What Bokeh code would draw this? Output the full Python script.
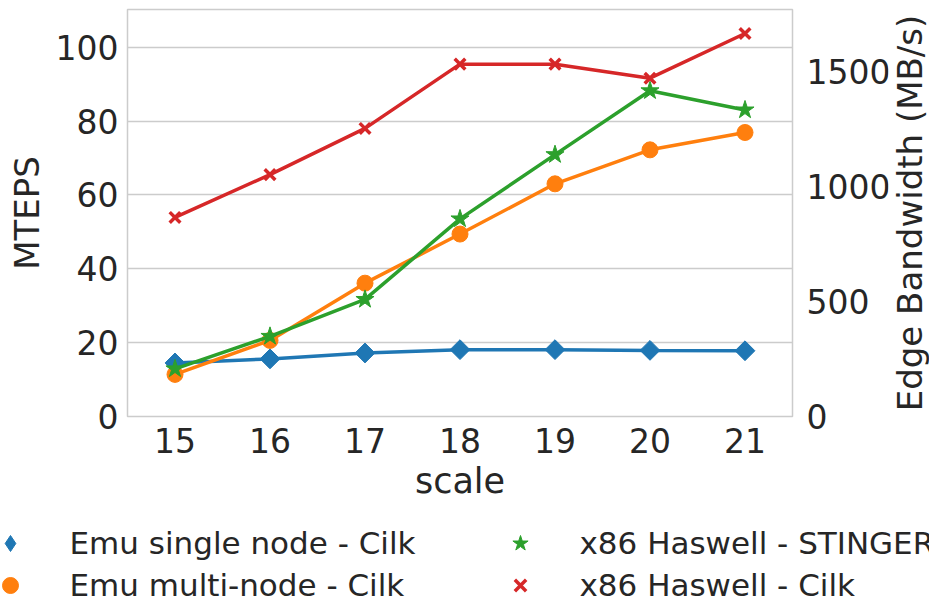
import math
from bokeh.plotting import figure
from bokeh.core.properties import value
from bokeh.models import Range1d, LinearAxis, FixedTicker, Legend, LegendItem
from bokeh.embed import file_html
from bokeh.resources import INLINE

# ---- data ----
scale = [15, 16, 17, 18, 19, 20, 21]
emu_single_cilk = [14.5, 15.6, 17.2, 18.1, 18.1, 17.9, 17.8]
emu_multi_cilk = [11.4, 20.6, 36.1, 49.4, 63.0, 72.2, 76.9]
haswell_stinger = [12.9, 21.7, 31.7, 53.5, 70.9, 88.2, 83.0]
haswell_cilk = [53.9, 65.5, 78.0, 95.4, 95.4, 91.6, 103.7]

series_names = ["Emu single node - Cilk", "Emu multi-node - Cilk",
                "x86 Haswell - STINGER", "x86 Haswell - Cilk"]
mteps_ticks = [0, 20, 40, 60, 80, 100]
bw_ticks = [0, 500, 1000, 1500]
right_label = "Edge Bandwidth (MB/s)"

colors = ["#1f77b4", "#ff7f0e", "#2ca02c", "#d62728"]
TEXT = "#262626"
FONT = "DejaVu Sans"

MAIN_H = 515
p = figure(width=929, height=MAIN_H, output_backend="svg", toolbar_location=None,
           x_range=Range1d(14.5, 21.5), y_range=Range1d(0, 110.2),
           min_border_left=127, min_border_right=137, min_border_top=9,
           min_border_bottom=MAIN_H - 416)
p.extra_y_ranges = {"bw": Range1d(0, 1770)}

p.xaxis.ticker = FixedTicker(ticks=scale)
p.yaxis.ticker = FixedTicker(ticks=mteps_ticks)
p.xaxis.axis_label = "scale"
p.yaxis.axis_label = "MTEPS"

rax = LinearAxis(y_range_name="bw", ticker=FixedTicker(ticks=bw_ticks))
p.add_layout(rax, "right")

for ax in [p.xaxis[0], p.yaxis[0], rax]:
    ax.axis_line_color = None
    ax.major_tick_line_color = None
    ax.minor_tick_line_color = None
    ax.major_tick_out = 0
    ax.major_tick_in = 0
    ax.major_label_text_font = FONT
    ax.major_label_text_font_size = "33px"
    ax.major_label_text_color = TEXT
    ax.axis_label_text_font = FONT
    ax.axis_label_text_font_size = "34px"
    ax.axis_label_text_font_style = "normal"
    ax.axis_label_text_color = TEXT

p.xaxis.axis_label_text_font_size = "35px"
p.xaxis.major_label_standoff = 11
p.xaxis.axis_label_standoff = 5
p.yaxis.major_label_standoff = 9
p.yaxis.axis_label_standoff = 6
rax.major_label_standoff = 14

p.xgrid.visible = False
p.ygrid.grid_line_color = "#cccccc"
p.ygrid.grid_line_width = 1.5
p.outline_line_color = "#cccccc"
p.outline_line_width = 1.5

series = [emu_single_cilk, emu_multi_cilk, haswell_stinger, haswell_cilk]
marker_kw = [
    dict(marker="square", size=14, angle=math.pi / 4, line_width=1),
    dict(marker="circle", size=16, line_width=1),
    dict(marker="star", size=19, line_width=1),
    dict(marker="x", size=15, line_width=3.5),
]
for vals, col, mk in zip(series, colors, marker_kw):
    p.line(scale, vals, line_color=col, line_width=3.5)
    p.scatter(scale, vals, fill_color=col, line_color=col, **mk)

# ---- right axis title: small strip placed at the right edge, text reads upward ----
rfig = figure(width=42, height=425, output_backend="svg", toolbar_location=None,
              x_range=Range1d(0, 1), y_range=Range1d(0, 1),
              x_axis_type=None, y_axis_type=None,
              min_border_left=0, min_border_right=0, min_border_top=0,
              min_border_bottom=0)
rfig.outline_line_color = None
rfig.grid.visible = False
rfig.text(x=[0.5], y=[0.5], text=[right_label], angle=math.pi / 2,
          text_align="center", text_baseline="middle",
          text_font=value(FONT), text_font_size=value("34px"), text_color=TEXT)
rfig.styles = {"position": "absolute", "left": "888px", "top": "0px"}

# ---- legend strip below the chart (separate root, frame covers the whole strip) ----
LEG_H = 601 - MAIN_H
lf = figure(width=929, height=LEG_H, output_backend="svg", toolbar_location=None,
            x_range=Range1d(0, 1), y_range=Range1d(0, 1),
            x_axis_type=None, y_axis_type=None,
            min_border_left=0, min_border_right=0, min_border_top=0,
            min_border_bottom=0)
lf.outline_line_color = None
lf.grid.visible = False
legend_markers = ["diamond", "circle", "star", "x"]
items = []
for name, vals, col, mk, lm in zip(series_names, series, colors, marker_kw, legend_markers):
    # the series lie outside this strip's ranges: only their legend entries show
    r = lf.scatter(scale, vals, marker=lm, size=mk["size"], fill_color=col,
                   line_color=col, line_width=mk["line_width"])
    items.append(LegendItem(label=name, renderers=[r]))

legend = Legend(items=items, location=(-11.5, -3.5), orientation="vertical", nrows=2,
                glyph_width=42, glyph_height=40, label_standoff=39, spacing=2,
                label_width=427, padding=0, margin=0, border_line_color=None,
                background_fill_alpha=0, label_text_font=FONT,
                label_text_font_size="31px", label_text_color=TEXT,
                label_text_baseline="middle")
lf.add_layout(legend, "center")

open("out.html", "w").write(file_html([p, lf, rfig], INLINE))
